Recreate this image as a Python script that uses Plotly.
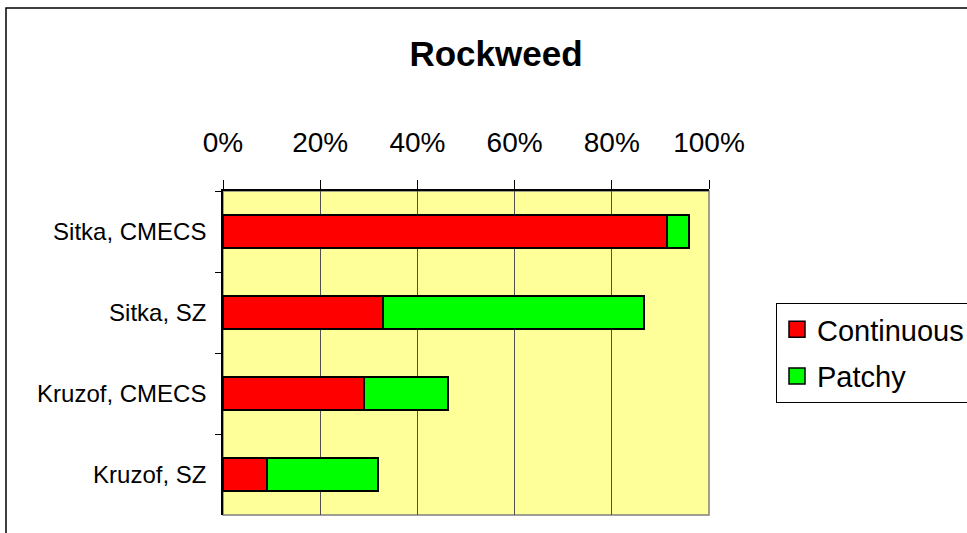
import plotly.graph_objects as go

categories = ["Sitka, CMECS", "Sitka, SZ", "Kruzof, CMECS", "Kruzof, SZ"]
continuous = [91.4, 32.9, 29.1, 9.1]
patchy = [4.4, 53.7, 17.1, 22.8]
series_names = ["Continuous", "Patchy"]
series_colors = ["#FF0000", "#00FF00"]
x_ticks = [0, 20, 40, 60, 80, 100]

W, H = 967, 533
L, R, T, B = 223, 258, 191, 18
pw, ph = W - L - R, H - T - B

def px_to_paper_x(px):
    return (px - L) / pw

def px_to_paper_y(py):
    return (H - B - py) / ph

fig = go.Figure()
for name, vals, col in zip(series_names, [continuous, patchy], series_colors):
    fig.add_trace(go.Bar(
        y=categories, x=vals, name=name, orientation="h",
        marker=dict(color=col, line=dict(color="black", width=2)),
        showlegend=False, hoverinfo="x+y+name",
    ))
for i, (name, col) in enumerate(zip(series_names, series_colors)):
    fig.add_trace(go.Scatter(
        x=[None], y=[None], mode="markers", name=name,
        legendgroup=f"g{i}",
        marker=dict(symbol="square", size=16, color=col,
                    line=dict(color="black", width=1.5)),
        showlegend=True,
    ))

font_family = "Liberation Sans, Arial, sans-serif"

fig.update_layout(
    width=W, height=H,
    margin=dict(l=L, r=R, t=T, b=B, autoexpand=False),
    paper_bgcolor="white",
    plot_bgcolor="#FFFF99",
    barmode="stack",
    bargap=0.6,
    font=dict(family=font_family, color="black"),
    title=dict(text="<b>Rockweed</b>", font=dict(size=35, family=font_family, color="black"),
               x=496 / W, xanchor="center", xref="container",
               y=1 - 54 / H, yanchor="middle", yref="container"),
    legend=dict(
        x=px_to_paper_x(776), y=px_to_paper_y(303),
        xanchor="left", yanchor="top",
        bordercolor="black", borderwidth=1, bgcolor="white",
        font=dict(size=29, family=font_family, color="black"),
        tracegroupgap=6,
    ),
    xaxis=dict(
        side="top", range=[0, 100], tickvals=x_ticks,
        ticktext=[f"{v}%" for v in x_ticks],
        ticks="outside", ticklen=9, tickcolor="black", tickwidth=1,
        tickfont=dict(size=28, family=font_family, color="black"),
        ticklabelstandoff=17,
        showgrid=True, gridcolor="#505050", gridwidth=1,
        zeroline=False,
        showline=True, linecolor="black", linewidth=1.5,
        fixedrange=True,
    ),
    yaxis=dict(
        autorange="reversed",
        ticks="outside", ticklen=6, tickcolor="black", tickwidth=1,
        tickson="boundaries",
        tickfont=dict(size=24, family=font_family, color="black"),
        ticklabelstandoff=10,
        showgrid=False, zeroline=False,
        showline=True, linecolor="black", linewidth=1.5,
        fixedrange=True,
    ),
    shapes=[
        # plot area border (grey, right and bottom)
        dict(type="rect", xref="paper", yref="paper", x0=0, x1=1, y0=0, y1=1,
             line=dict(color="#808080", width=1.5), layer="below"),
        # outer chart border
        dict(type="rect", xref="paper", yref="paper",
             x0=px_to_paper_x(6), x1=px_to_paper_x(W + 20),
             y0=px_to_paper_y(H + 20), y1=px_to_paper_y(8),
             line=dict(color="black", width=1.5), layer="above"),
    ],
)

fig.write_html("out.html")
